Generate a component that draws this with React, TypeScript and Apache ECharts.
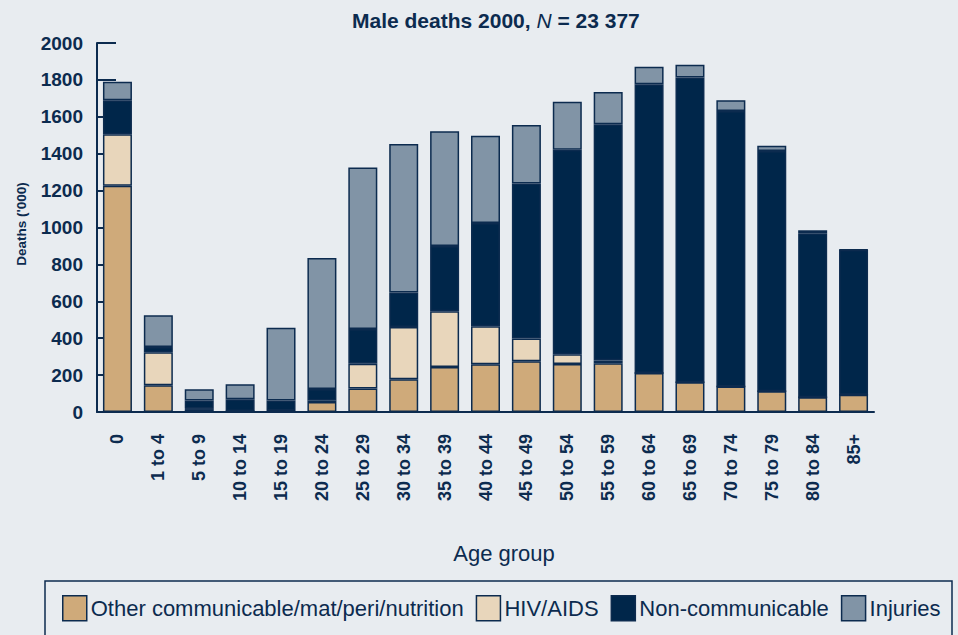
import React, { useEffect, useRef } from "react";
import * as echarts from "echarts";

const categories = ["0", "1 to 4", "5 to 9", "10 to 14", "15 to 19", "20 to 24", "25 to 29", "30 to 34", "35 to 39", "40 to 44", "45 to 49", "50 to 54", "55 to 59", "60 to 64", "65 to 69", "70 to 74", "75 to 79", "80 to 84", "85+"];
const otherCommunicable = [1226, 145, 15, 4, 6, 54, 127, 177, 244, 259, 275, 260, 264, 212, 161, 138, 112, 80, 94];
const hivAids = [280, 179, 3, 1, 2, 9, 135, 284, 302, 206, 123, 53, 16, 0, 0, 0, 0, 0, 0];
const nonCommunicable = [184, 28, 44, 64, 55, 62, 188, 187, 354, 560, 841, 1108, 1280, 1565, 1652, 1493, 1303, 889, 785];
const injuries = [100, 172, 61, 81, 393, 710, 875, 804, 622, 472, 316, 260, 175, 94, 69, 59, 28, 16, 2];
const seriesNames = ["Other communicable/mat/peri/nutrition", "HIV/AIDS", "Non-communicable", "Injuries"];
const yTicks = { min: 0, max: 2000, interval: 200 };

const NAVY = "#0c2b4f";
const BG = "#e8ecf0";
const FONT = "'Liberation Sans', Arial, Helvetica, sans-serif";
const COLORS = ["#cfaa7a", "#e8d6bb", "#00264a", "#8194a6"];

export default function App() {
  const ref = useRef<HTMLDivElement>(null);
  useEffect(() => {
    if (!ref.current) return;
    const chart = echarts.init(ref.current, null, { renderer: "svg" });
    const dataSets = [otherCommunicable, hivAids, nonCommunicable, injuries];
    chart.setOption({
      animation: false,
      backgroundColor: BG,
      textStyle: { fontFamily: FONT },
      title: {
        left: 352,
        top: 10,
        padding: 0,
        text: "{b|Male deaths 2000, }{i|N}{b| = 23 377}",
        textStyle: {
          rich: {
            b: { fontSize: 21, fontWeight: "bold", color: NAVY, fontFamily: FONT },
            i: { fontSize: 21, fontWeight: "normal", fontStyle: "italic", color: NAVY, fontFamily: FONT },
          },
        },
      },
      grid: { left: 97, right: 84, top: 43, bottom: 223, containLabel: false },
      xAxis: {
        type: "category",
        data: categories,
        axisLine: { show: true, lineStyle: { color: NAVY, width: 2 } },
        axisTick: { show: false },
        axisLabel: {
          rotate: 90,
          margin: 22,
          interval: 0,
          color: NAVY,
          fontSize: 18,
          fontWeight: "bold",
          fontFamily: FONT,
        },
      },
      yAxis: {
        type: "value",
        min: yTicks.min,
        max: yTicks.max,
        interval: yTicks.interval,
        splitLine: { show: false },
        axisLine: { show: true, lineStyle: { color: NAVY, width: 2 } },
        axisTick: { show: true, inside: true, length: 19, lineStyle: { color: NAVY, width: 2 } },
        axisLabel: {
          margin: 14,
          color: NAVY,
          fontSize: 19,
          fontWeight: "bold",
          fontFamily: FONT,
          formatter: (v: number) => String(v),
        },
      },
      legend: {
        left: 62,
        top: 595,
        padding: 0,
        itemWidth: 24,
        itemHeight: 25,
        itemGap: 12,
        icon: "rect",
        data: seriesNames,
        itemStyle: { borderColor: NAVY, borderWidth: 1.5 },
        textStyle: { fontSize: 22, color: NAVY, fontFamily: FONT, padding: [0, 0, 0, -1] },
      },
      graphic: [
        {
          type: "rect",
          shape: { x: 45, y: 581, width: 907, height: 80 },
          style: { fill: "none", stroke: NAVY, lineWidth: 1.5 },
          silent: true,
        },
        {
          type: "text",
          x: 504,
          y: 553,
          style: { text: "Age group", fontSize: 22, fill: NAVY, fontFamily: FONT, align: "center", verticalAlign: "middle" },
        },
        {
          type: "text",
          x: 21.5,
          y: 224,
          rotation: Math.PI / 2,
          style: { text: "Deaths ('000)", fontSize: 13.5, fontWeight: "bold", fill: NAVY, fontFamily: FONT, align: "center", verticalAlign: "middle" },
        },
      ],
      series: seriesNames.map((name, i) => ({
        name,
        type: "bar",
        stack: "total",
        barWidth: 29,
        data: dataSets[i],
        itemStyle: { color: COLORS[i], borderColor: NAVY, borderWidth: 1.5 },
      })),
    });
    return () => chart.dispose();
  }, []);
  return <div ref={ref} style={{ position: "fixed", left: 0, top: 0, width: 958, height: 635 }} />;
}
